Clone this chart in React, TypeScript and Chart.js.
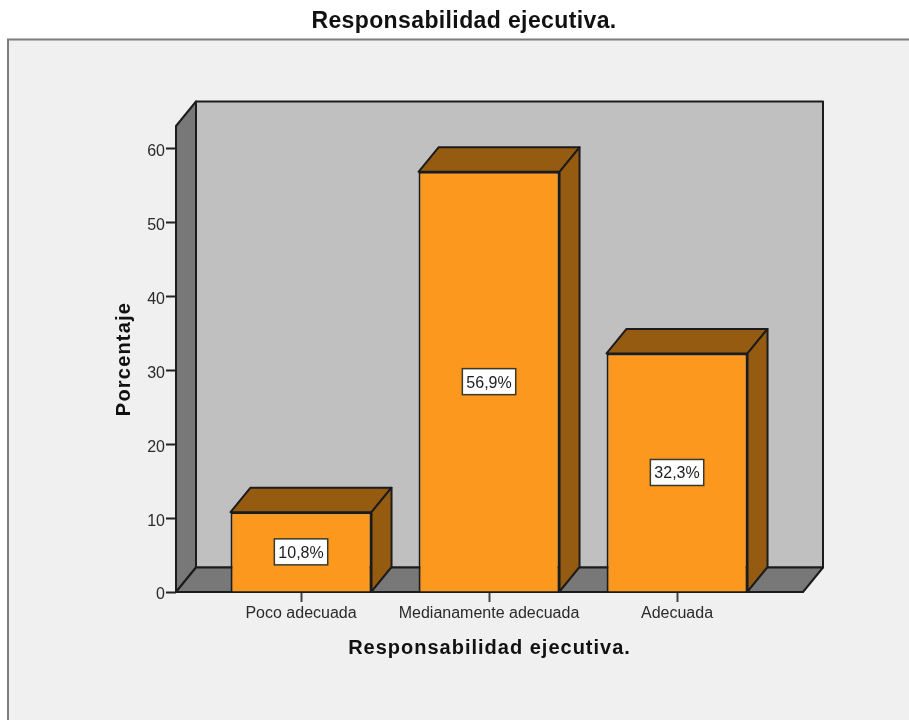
import React, { useEffect, useRef } from "react";
import { Chart, registerables } from "chart.js";

Chart.register(...registerables);

const titleText = "Responsabilidad ejecutiva.";
const xAxisTitle = "Responsabilidad ejecutiva.";
const yAxisTitle = "Porcentaje";
const categories = ["Poco adecuada", "Medianamente adecuada", "Adecuada"];
const percentages = [10.8, 56.9, 32.3];

const FONT = "'Liberation Sans', Arial, sans-serif";
const INK = "#1c1c1c";
const DEPTH_X = 20;
const DEPTH_Y = 24.5;

function poly(ctx: CanvasRenderingContext2D, pts: number[][], fill: string, lw = 2) {
  ctx.beginPath();
  pts.forEach(([x, y], i) => (i ? ctx.lineTo(x, y) : ctx.moveTo(x, y)));
  ctx.closePath();
  ctx.fillStyle = fill;
  ctx.fill();
  ctx.lineWidth = lw;
  ctx.lineJoin = "round";
  ctx.strokeStyle = INK;
  ctx.stroke();
}

function spaced(ctx: any, obj: any, method: string, spacing: string) {
  if (!obj || obj.__spaced) return;
  const orig = obj[method];
  obj[method] = function (...args: any[]) {
    ctx.letterSpacing = spacing;
    orig.apply(obj, args);
    ctx.letterSpacing = "0px";
  };
  obj.__spaced = true;
}

const scene3d = {
  id: "scene3d",
  beforeDraw(chart: any) {
    const { ctx, width, height } = chart;
    ctx.save();
    ctx.fillStyle = "#f0f0f0";
    ctx.fillRect(8, 39, width, height);
    ctx.strokeStyle = "#7d7d7d";
    ctx.lineWidth = 2;
    ctx.strokeRect(8, 39.5, width + 20, height + 20);
    ctx.restore();
    spaced(ctx, chart.titleBlock, "draw", "0.38px");
    spaced(ctx, chart.scales.x, "drawTitle", "1px");
    spaced(ctx, chart.scales.y, "drawTitle", "1.2px");
  },
  beforeDatasetsDraw(chart: any) {
    const { ctx, chartArea: a } = chart;
    const backL = a.left + DEPTH_X;
    const backR = a.right + DEPTH_X;
    const backB = a.bottom - DEPTH_Y;
    const backT = a.top - DEPTH_Y;
    ctx.save();
    poly(ctx, [[backL, backT], [backR, backT], [backR, backB], [backL, backB]], "#c0c0c0");
    poly(ctx, [[a.left, a.top], [backL, backT], [backL, backB], [a.left, a.bottom]], "#787878");
    poly(ctx, [[a.left, a.bottom], [backL, backB], [backR, backB], [a.right, a.bottom]], "#787878");
    chart.getDatasetMeta(0).data.forEach((bar: any) => {
      const l = bar.x - bar.width / 2;
      const r = bar.x + bar.width / 2;
      poly(ctx, [[l, bar.y], [l + DEPTH_X, bar.y - DEPTH_Y], [r + DEPTH_X, bar.y - DEPTH_Y], [r, bar.y]], "#955b10");
      poly(ctx, [[r, bar.y], [r + DEPTH_X, bar.y - DEPTH_Y], [r + DEPTH_X, bar.base - DEPTH_Y], [r, bar.base]], "#955b10");
    });
    ctx.restore();
  },
  afterDatasetsDraw(chart: any) {
    const { ctx } = chart;
    ctx.save();
    chart.getDatasetMeta(0).data.forEach((bar: any, i: number) => {
      const text = percentages[i].toFixed(1).replace(".", ",") + "%";
      const cx = bar.x;
      const cy = (bar.y + bar.base) / 2;
      ctx.font = `16px ${FONT}`;
      const w = ctx.measureText(text).width + 8;
      const h = 26;
      ctx.fillStyle = "#ffffff";
      ctx.strokeStyle = "#3a3a2a";
      ctx.lineWidth = 1.5;
      ctx.fillRect(cx - w / 2, cy - h / 2, w, h);
      ctx.strokeRect(cx - w / 2, cy - h / 2, w, h);
      ctx.fillStyle = INK;
      ctx.textAlign = "center";
      ctx.textBaseline = "middle";
      ctx.fillText(text, cx, cy + 1.5);
    });
    ctx.restore();
  },
};

export default function App() {
  const ref = useRef<HTMLCanvasElement>(null);
  useEffect(() => {
    document.body.style.margin = "0";
    const chart = new Chart(ref.current as HTMLCanvasElement, {
      type: "bar",
      data: {
        datasets: [
          {
            data: percentages.map((y, x) => ({ x, y })),
            backgroundColor: "#fb981d",
            borderColor: INK,
            borderWidth: 2,
            barPercentage: 0.75,
            categoryPercentage: 1,
            clip: false,
          } as any,
        ],
      },
      options: {
        responsive: false,
        animation: false,
        events: [],
        layout: { padding: { left: 19, right: 0, top: 0, bottom: 0 } },
        plugins: {
          legend: { display: false },
          tooltip: { enabled: false },
          title: {
            display: true,
            text: titleText,
            color: "#111",
            font: { family: FONT, size: 23, weight: "bold", lineHeight: 1.2 },
            padding: { top: 8, bottom: 90.4 },
          },
        },
        scales: {
          x: {
            type: "linear",
            offset: false,
            min: -0.665,
            max: 2.67,
            afterBuildTicks: (s: any) => {
              s.ticks = categories.map((_, value) => ({ value }));
            },
            afterFit: (s: any) => {
              s.height = 128;
            },
            grid: { offset: false, drawOnChartArea: false, drawTicks: true, tickLength: 10, tickColor: "#444", tickWidth: 2 },
            border: { display: false },
            ticks: {
              callback: (v: any) => categories[v],
              color: "#2a2a2a",
              font: { family: FONT, size: 16 },
              padding: 2,
              autoSkip: false,
              minRotation: 0,
              maxRotation: 0,
            },
            title: {
              display: true,
              text: xAxisTitle,
              color: "#111",
              font: { family: FONT, size: 20, weight: "bold", lineHeight: 1.2 },
              padding: { top: 0, bottom: 60 },
            },
          },
          y: {
            min: 0,
            max: 63.1,
            position: "left",
            afterBuildTicks: (s: any) => {
              s.ticks = s.ticks.filter((t: any) => t.value <= 60);
            },
            afterFit: (s: any) => {
              s.width = 157;
            },
            grid: { drawOnChartArea: false, drawTicks: true, tickLength: 10, tickColor: "#222", tickWidth: 2 },
            border: { display: false },
            ticks: {
              stepSize: 10,
              includeBounds: false,
              color: "#2a2a2a",
              font: { family: FONT, size: 16 },
              padding: 1,
              labelOffset: 3,
            },
            title: {
              display: true,
              text: yAxisTitle,
              color: "#111",
              font: { family: FONT, size: 20, weight: "bold", lineHeight: 1.2 },
              padding: { top: 93, bottom: 0 },
            },
          },
          spacer: {
            axis: "y",
            position: "right",
            display: true,
            afterFit: (s: any) => {
              s.width = 106;
            },
            grid: { display: false },
            border: { display: false },
            ticks: { display: false },
          },
        },
      } as any,
      plugins: [scene3d],
    });
    return () => chart.destroy();
  }, []);
  return <canvas ref={ref} width={909} height={720} style={{ display: "block" }} />;
}
